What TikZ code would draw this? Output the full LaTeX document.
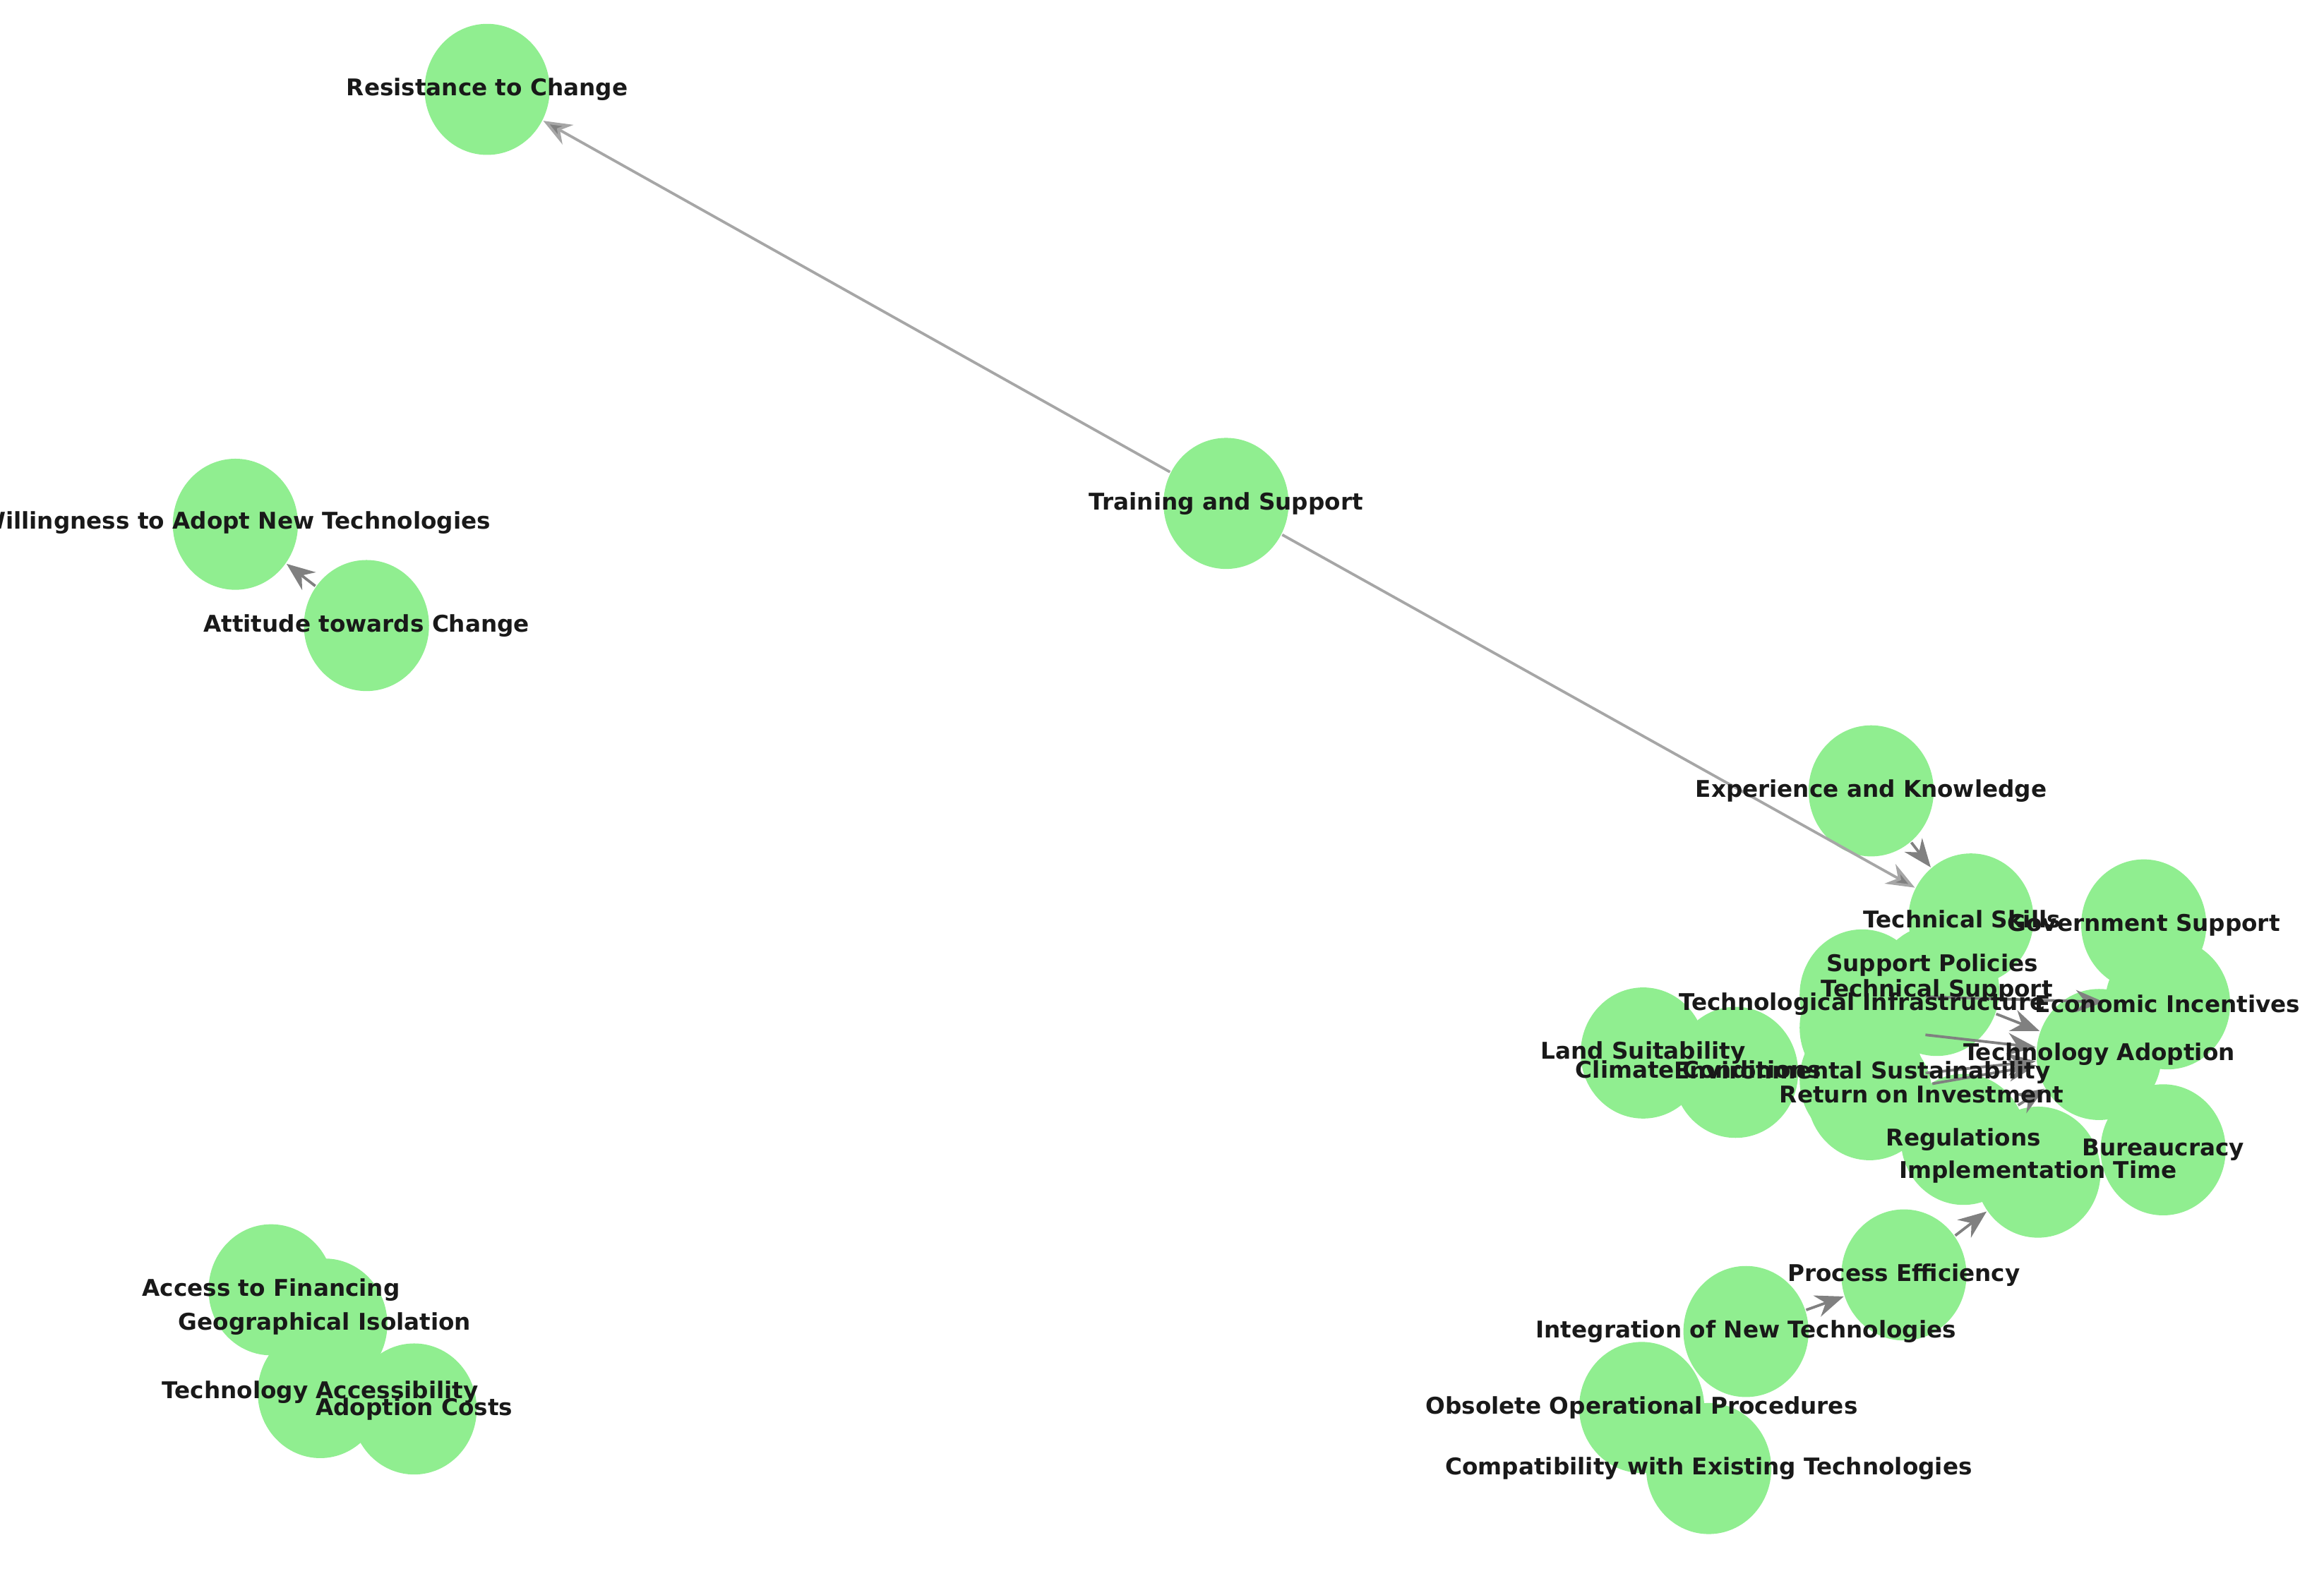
\documentclass[tikz,border=0pt]{standalone}
\usepackage{fontspec}
\setmainfont{DejaVu Sans}
\usetikzlibrary{arrows.meta}
\definecolor{lgreen}{HTML}{90EE90}
\definecolor{edgegray}{HTML}{808080}
\tikzset{
  vert/.style={ellipse,fill=lgreen,draw=none,minimum width=8.4mm,minimum height=8.8mm,inner sep=0pt},
  lab/.style={font=\fontsize{4.4}{5}\selectfont\bfseries,text=black!90,inner sep=0pt},
  edge/.style={draw=edgegray,line width=0.18mm,-{Stealth[length=1.9mm,width=1.5mm]}},
  lightedge/.style={draw=black!35,line width=0.18mm,-{Stealth[length=1.9mm,width=1.5mm,fill=edgegray]}}
}
\usetikzlibrary{shapes.geometric}
\begin{document}
\begin{tikzpicture}[x=0.1mm,y=-0.1mm]
\useasboundingbox (0,0) rectangle (1560,1058);
\begin{scope}
\clip (0,0) rectangle (1560,1058);
% vertices
\foreach \n/\x/\y in {rc/327/60, ts/823/338, wa/158/352, at/246/420, ek/1256/531,
  tsk/1323/617, gs/1439/621, sp/1250/668, tsu/1300/665, ti/1250/690, ei/1455/674,
  ta/1409/708, ls/1103/707, cc/1165/720, es/1250/725, roi/1255/735, reg/1318/765,
  bu/1452/772, it/1368/787, pe/1278/856, int/1172/894, ob/1102/945, comp/1147/986,
  af/182/866, gi/218/889, tac/215/935, ac/278/946}
  \node[vert] (\n) at (\x,\y) {};
% edges
\draw[lightedge] (ts) -- (rc);
\draw[lightedge] (ts) -- (tsk);
\draw[edge] (at) -- (wa);
\draw[edge] (ek) -- (tsk);
\draw[edge] (int) -- (pe);
\draw[edge] (pe) -- (it);
\draw[edge] (sp) -- (ei);
\draw[edge] (tsu) -- (ta);
\draw[edge] (ti) -- (ta);
\draw[edge] (es) -- (ta);
\draw[edge] (roi) -- (ta);
\draw[edge] (reg) -- (ta);
% labels
\foreach \n/\x/\y/\t in {lrc/327/60/Resistance to Change, lts/823/338/Training and Support,
  lwa/158/351/Willingness to Adopt New Technologies, lat/246/420/Attitude towards Change,
  lek/1256/531/Experience and Knowledge, ltsk/1317/617/Technical Skills,
  lgs/1439/621/Government Support, lsp/1297/648/Support Policies,
  ltsu/1300/665/Technical Support, lti/1250/674/Technological Infrastructure,
  lei/1455/674/Economic Incentives, lta/1409/708/Technology Adoption,
  lls/1103/707/Land Suitability, lcc/1140/718/Climate Conditions,
  les/1250/720/Environmental Sustainability, lroi/1290/735/Return on Investment,
  lreg/1318/765/Regulations, lbu/1452/772/Bureaucracy, lit/1368/787/Implementation Time,
  lpe/1278/856/Process Efficiency, lint/1172/894/Integration of New Technologies,
  lob/1102/945/Obsolete Operational Procedures, lcomp/1147/986/Compatibility with Existing Technologies,
  laf/182/866/Access to Financing, lgi/218/889/Geographical Isolation,
  ltac/215/935/Technology Accessibility, lac/278/946/Adoption Costs}
  \node[lab] (\n) at (\x,\y) {\t};
\end{scope}
\end{tikzpicture}
\end{document}
